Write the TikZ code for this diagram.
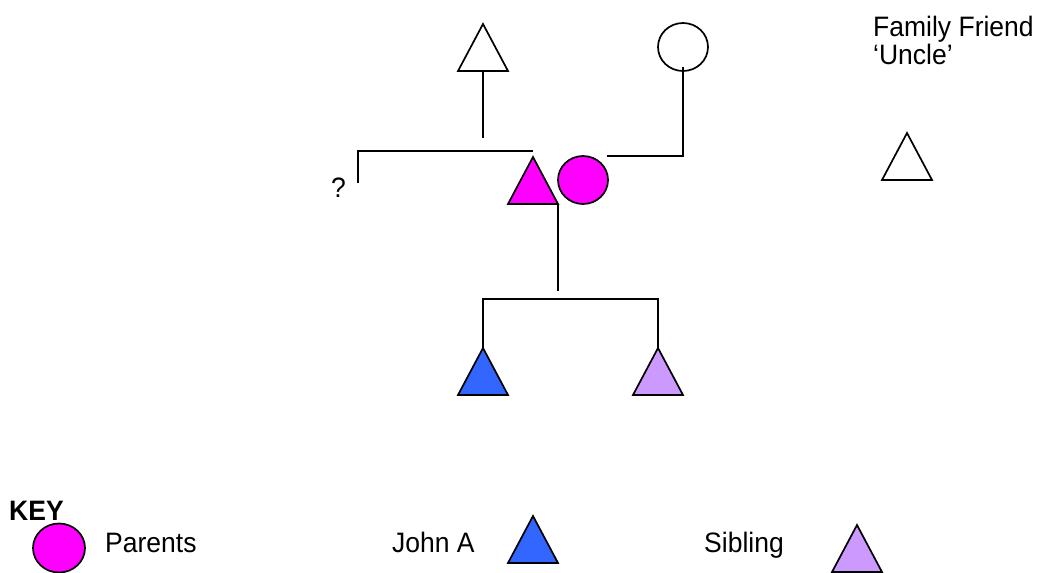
\documentclass[tikz,border=0pt]{standalone}
\usepackage{fontspec}
\setmainfont{Liberation Sans}
\usetikzlibrary{shapes.geometric}

\definecolor{parentpink}{HTML}{FF00FF}
\definecolor{johnblue}{HTML}{3366FF}
\definecolor{siblilac}{HTML}{CC99FF}

\tikzset{
  ink/.style={line width=1.7pt, draw=black},
  link/.style={line width=1.7pt, draw=black},
  person/.style={ellipse, ink, minimum width=50pt, minimum height=48pt, inner sep=0pt},
  label/.style={anchor=base west, inner sep=0pt, font=\fontsize{26.5}{30}\selectfont, yscale=1.06},
  % triangle symbol: apex at the pic origin, base 47 below and 50 wide
  pics/tri/.style={code={
    \draw[ink, fill=#1, line join=miter] (0,0) coordinate (-apex)
      -- (25,47) coordinate (-br) -- (-25,47) coordinate (-bl) -- cycle;
    \coordinate (-base) at (0,47);
  }},
}

\begin{document}
\begin{tikzpicture}[x=1pt, y=-1pt]
\useasboundingbox (0,0) rectangle (1039,573);

% upper generation
\pic (gf) at (483,24) {tri=white};
\node[person, fill=white] (gm) at (683,47) {};
\coordinate (gfstem) at (483,138);
\draw[link] (gf-base) -- (gfstem);
\coordinate (gmstem) at (683,67);
\coordinate (gmjoin) at (607,156);
\draw[link] (gmstem) |- (gmjoin);

% unknown branch
\coordinate (qlow) at (358,183);
\coordinate (qright) at (533,151);
\draw[link] (qlow) |- (qright);
\node[label] (qmark) at (331,197) {?};

% parents
\pic (dad) at (533,157) {tri=parentpink};
\node[person, fill=parentpink] (mum) at (583,180) {};
\coordinate (pstem) at (558,291);
\draw[link] (dad-br) -- (dad-br |- pstem);

% children
\pic (john) at (483,348) {tri=johnblue};
\pic (sib) at (658,348) {tri=siblilac};
\draw[link] (john-apex) -- ++(0,-49) -| (sib-apex);

% family friend
\node[label] (ff1) at (873,36) {Family Friend};
\node[label] (ff2) at (873,64) {‘Uncle’};
\pic (uncle) at (907,133) {tri=white};

% key
\node[label, font=\fontsize{26.5}{30}\selectfont\bfseries] (key) at (9,520) {KEY};
\node[person, fill=parentpink, minimum width=52pt, minimum height=49pt] (kpar) at (59,548) {};
\node[label] (kpart) at (105,552) {Parents};
\node[label] (kjohnt) at (392,552) {John A};
\pic (kjohn) at (533,516) {tri=johnblue};
\node[label] (ksibt) at (704,552) {Sibling};
\pic (ksib) at (857,525) {tri=siblilac};
\end{tikzpicture}
\end{document}
